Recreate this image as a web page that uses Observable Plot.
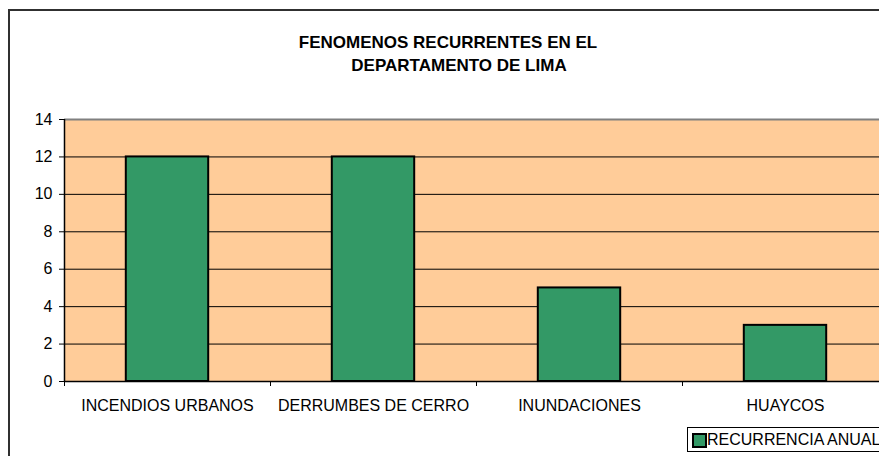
<!DOCTYPE html>
<html>
<head>
<meta charset="utf-8">
<script src="https://cdn.jsdelivr.net/npm/d3@7"></script>
<script src="https://cdn.jsdelivr.net/npm/@observablehq/plot@0.6"></script>
<style>
  html, body { margin: 0; padding: 0; background: #fff; overflow: hidden; }
  #wrap { position: relative; width: 879px; height: 456px; overflow: hidden; font-family: Arial, "Liberation Sans", sans-serif; }
  #outer { position: absolute; left: 8px; top: 9px; width: 920px; height: 520px; border: 2px solid #303030; box-sizing: border-box; }
  #chart { position: absolute; left: 0; top: 0; width: 900px; }
  #chart svg { max-width: none !important; }
  .title { position: absolute; transform: translateX(-50%); white-space: nowrap; font-weight: bold; font-size: 17px; color: #000; }
  #legend { position: absolute; left: 687px; top: 427px; width: 260px; height: 25px; border: 1px solid #000; box-sizing: border-box; background: #fff; font-size: 16px; color: #000; white-space: nowrap; }
  #legend .sw { position: absolute; left: 4px; top: 5px; width: 11px; height: 11px; background: #339966; border: 2px solid #000; box-sizing: content-box; }
  #legend .lbl { position: absolute; left: 19px; top: 3px; }
</style>
</head>
<body>
<div id="wrap">
  <div id="outer"></div>
  <div id="chart"></div>
  <div class="title" id="t1" style="left:448px; top:33px;"></div>
  <div class="title" id="t2" style="left:459px; top:56px;"></div>
  <div id="legend"><span class="sw"></span><span class="lbl" id="legLbl"></span></div>
</div>
<script>
const titleLines = ["FENOMENOS RECURRENTES EN EL", "DEPARTAMENTO DE LIMA"];
const categories = ["INCENDIOS URBANOS", "DERRUMBES DE CERRO", "INUNDACIONES", "HUAYCOS"];
const values = [12, 12, 5, 3];
const yTicks = [0, 2, 4, 6, 8, 10, 12, 14];
const seriesName = "RECURRENCIA ANUAL";

document.getElementById("t1").textContent = titleLines[0];
document.getElementById("t2").textContent = titleLines[1];
document.getElementById("legLbl").textContent = seriesName;

const data = categories.map((c, i) => ({c, i, v: values[i]}));
const n = categories.length;
const barHalf = 0.2; // bar occupies 40% of each category slot

const chart = Plot.plot({
  width: 900,
  height: 470,
  marginLeft: 64,
  marginRight: 12,
  marginTop: 119,
  marginBottom: 89,
  style: {fontFamily: "Arial, 'Liberation Sans', sans-serif", fontSize: "16px", color: "#000", background: "transparent", maxWidth: "none"},
  x: {domain: [0, n]},
  y: {domain: [0, 14]},
  marks: [
    Plot.frame({fill: "#FFCC99", stroke: null}),
    Plot.ruleY(yTicks.filter(t => t > 0 && t < 14), {stroke: "#000", strokeWidth: 1}),
    Plot.ruleY([14], {stroke: "#808080", strokeWidth: 2}),
    Plot.ruleX([n], {stroke: "#808080", strokeWidth: 2}),
    Plot.rectY(data, {x1: d => d.i + 0.5 - barHalf, x2: d => d.i + 0.5 + barHalf, y1: 0, y2: "v", fill: "#339966", stroke: "#000", strokeWidth: 2}),
    Plot.ruleX([0], {stroke: "#000", strokeWidth: 1.5}),
    Plot.ruleY([0], {stroke: "#000", strokeWidth: 1.5}),
    Plot.axisY({ticks: yTicks, tickSize: 5, tickPadding: 7, label: null, tickFormat: d => String(d)}),
    Plot.axisX({ticks: d3.range(0, n + 1), tickSize: 5, tickFormat: () => "", label: null}),
    Plot.axisX({ticks: categories.map((c, i) => i + 0.5), tickSize: 0, tickPadding: 18, tickFormat: t => categories[Math.floor(t)], label: null})
  ]
});
document.getElementById("chart").appendChild(chart);
</script>
</body>
</html>
